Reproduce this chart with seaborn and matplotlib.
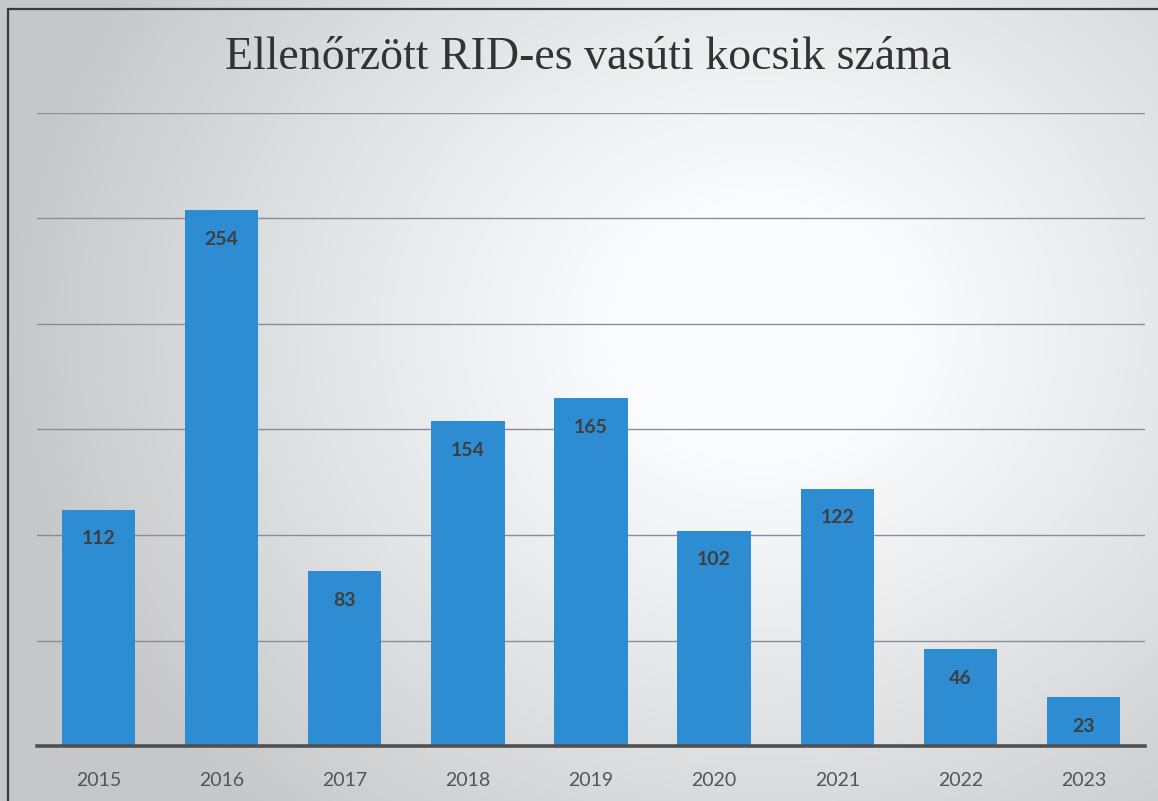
import numpy as np
import pandas as pd
import matplotlib
matplotlib.use("Agg")
import matplotlib.pyplot as plt
import seaborn as sns

years = ["2015", "2016", "2017", "2018", "2019", "2020", "2021", "2022", "2023"]
counts = [112, 254, 83, 154, 165, 102, 122, 46, 23]
title = "Ellenőrzött RID-es vasúti kocsik száma"

df = pd.DataFrame({"year": years, "count": counts})

sns.set_theme(style="white")
plt.rcParams["font.family"] = ["Lato", "DejaVu Sans"]

W, H = 1158, 801
fig = plt.figure(figsize=(W / 100, H / 100), dpi=100)

# background gradient
bg = fig.add_axes([0, 0, 1, 1], zorder=-10)
yy, xx = np.mgrid[0:H, 0:W]
cx, cy = 760, 330
d = np.sqrt(((xx - cx) / 650.0) ** 2 + ((yy - cy) / 560.0) ** 2)
val = np.clip(1.0 - 0.22 * np.clip(d - 0.2, 0, None) ** 1.1, 0.79, 1.0)
img = np.stack([val * 0.985, val * 0.99, val], axis=-1)
bg.imshow(img, aspect="auto", extent=[0, 1, 0, 1], origin="upper")
bg.set_xlim(0, 1)
bg.set_ylim(0, 1)
bg.axis("off")
# frame lines (left and top)
bg.plot([8 / W, 8 / W], [0, 1 - 9 / H], color="#3a3a3a", lw=1.6)
bg.plot([8 / W, 1], [1 - 9 / H, 1 - 9 / H], color="#3a3a3a", lw=1.6)

ax = fig.add_axes([37 / W, 1 - 746 / H, (1145 - 37) / W, (746 - 113) / H])
ax.set_facecolor("none")
sns.barplot(data=df, x="year", y="count", color="#2E8DD2", saturation=1,
            width=0.595, ax=ax, zorder=3, linewidth=0, edgecolor="none")
ax.set_xlim(-0.5, 8.5)
ax.set_ylim(0, 300)
ax.set_yticks([50, 100, 150, 200, 250, 300])
ax.yaxis.grid(True, color="#8a8c98", lw=1.0, zorder=0)
ax.set_axisbelow(True)
for s in ["left", "right", "top"]:
    ax.spines[s].set_visible(False)
ax.spines["bottom"].set_color("#505050")
ax.spines["bottom"].set_linewidth(2.6)
ax.spines["bottom"].set_zorder(5)
ax.tick_params(axis="y", left=False, labelleft=False)
ax.tick_params(axis="x", bottom=False, pad=13, labelsize=14, labelcolor="#555555")
ax.set_xlabel("")
ax.set_ylabel("")

for p, v in zip(ax.patches, counts):
    ax.annotate(str(v), (p.get_x() + p.get_width() / 2, p.get_height()),
                xytext=(0, -21), textcoords="offset points",
                ha="center", va="center", fontsize=14, fontweight="bold",
                color="#3f3f3f", zorder=6)

fig.text(588 / W, 1 - 58 / H, title, ha="center", va="center",
         fontsize=33, color="#333333", family=["Liberation Serif", "DejaVu Serif"])

fig.savefig("out.png", dpi=100)
